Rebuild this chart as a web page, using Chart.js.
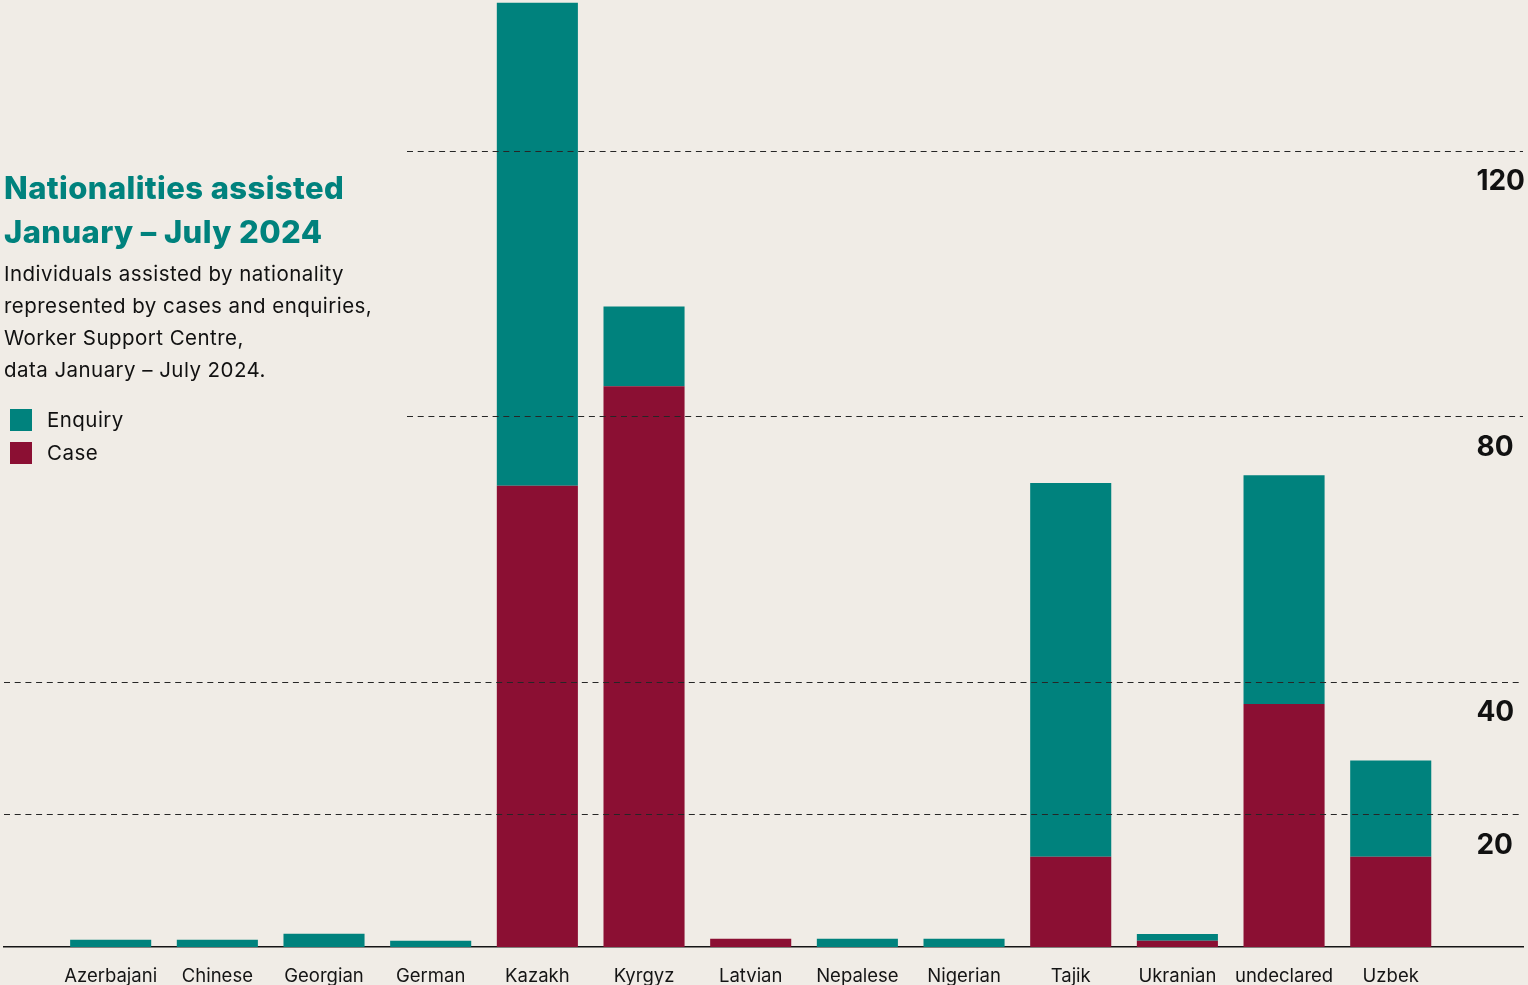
<!DOCTYPE html>
<html>
<head>
<meta charset="utf-8">
<title>Nationalities assisted</title>
<script src="https://cdn.jsdelivr.net/npm/chart.js@4"></script>
<style>
  html, body {
    margin: 0;
    padding: 0;
    background: #f0ece6;
    font-family: Inter, "Noto Sans", sans-serif;
  }
  .page {
    position: relative;
    width: 1528px;
    height: 985px;
    overflow: hidden;
  }
  .chart-box {
    position: absolute;
    left: 0;
    top: 0;
    width: 1528px;
    height: 985px;
  }
  .intro {
    position: absolute;
    left: 4px;
    top: 166px;
    width: 400px;
    color: #111;
  }
  .intro h1 {
    margin: 0;
    color: #00827d;
    font-size: 31px;
    font-weight: 800;
    line-height: 44px;
    letter-spacing: 0.4px;
  }
  .intro p {
    margin: 4px 0 0 0;
    font-size: 20.5px;
    line-height: 32px;
    letter-spacing: 0.45px;
  }
  .legend {
    list-style: none;
    margin: 17px 0 0 6px;
    padding: 0;
  }
  .legend li {
    display: flex;
    align-items: center;
    height: 33px;
    font-size: 20.5px;
    letter-spacing: 0.45px;
  }
  .legend .swatch {
    width: 22px;
    height: 22px;
    margin-right: 15px;
  }
</style>
</head>
<body>
<div class="page">
  <div class="chart-box"><canvas id="nationalityChart"></canvas></div>
  <div class="intro">
    <h1>Nationalities assisted<br>January – July 2024</h1>
    <p>Individuals assisted by nationality<br>represented by cases and enquiries,<br>Worker Support Centre,<br>data January – July 2024.</p>
    <ul class="legend" id="legend"></ul>
  </div>
</div>
<script>
// individuals assisted per nationality, Jan - Jul 2024
const nationalities = ["Azerbajani", "Chinese", "Georgian", "German", "Kazakh", "Kyrgyz",
  "Latvian", "Nepalese", "Nigerian", "Tajik", "Ukranian", "undeclared", "Uzbek"];
const caseCounts = [0, 0, 0, 0, 69.5, 84.5, 1.25, 0, 0, 13.6, 0.95, 36.6, 13.6];
const enquiryCounts = [1.1, 1.1, 2, 0.95, 72.8, 12, 0, 1.25, 1.25, 56.3, 1, 34.5, 14.5];
const yTickValues = [20, 40, 80, 120];

const TEAL = "#00827d";
const WINE = "#8b0f33";

// the upper grid lines stop short of the title block on the left
const titleClearX = 407;

const dashedGrid = {
  id: "dashedGrid",
  afterDatasetsDraw(chart) {
    let { ctx, chartArea, scales } = chart;
    let y = scales.y;
    ctx.save();
    ctx.setLineDash([6, 4.7]);
    ctx.strokeStyle = "#262626";
    ctx.lineWidth = 1;
    y.ticks.forEach((tick) => {
      let py = Math.round(y.getPixelForValue(tick.value)) + 0.5;
      let startX = tick.value >= 80 ? titleClearX : chartArea.left;
      ctx.beginPath();
      ctx.moveTo(startX, py);
      ctx.lineTo(chartArea.right, py);
      ctx.stroke();
    });
    ctx.restore();
  },
};

// labels must not push the plot area inwards
function noLabelPadding(scale) {
  scale.paddingTop = 0;
  scale.paddingBottom = 0;
  scale.paddingLeft = 0;
  scale.paddingRight = 0;
}

function toPoints(values) {
  return values.map((v, i) => ({ x: i, y: v }));
}

const datasets = [
  { label: "Case", data: toPoints(caseCounts), backgroundColor: WINE },
  { label: "Enquiry", data: toPoints(enquiryCounts), backgroundColor: TEAL },
];

const ctx = document.getElementById("nationalityChart");
const chart = new Chart(ctx, {
  type: "bar",
  data: { datasets: datasets },
  plugins: [dashedGrid],
  options: {
    responsive: true,
    maintainAspectRatio: false,
    animation: false,
    layout: { padding: { left: 4, right: 5, top: 0, bottom: 0 } },
    datasets: {
      bar: { categoryPercentage: 1, barPercentage: 0.76, borderWidth: 0 },
    },
    plugins: {
      legend: { display: false },
      tooltip: { enabled: false },
    },
    scales: {
      x: {
        type: "linear",
        stacked: true,
        min: -1,
        max: 13.24,
        offset: false,
        grid: { display: false, drawTicks: false },
        border: { display: true, color: "#151515", width: 1.5 },
        afterFit: (scale) => {
          noLabelPadding(scale);
          scale.height = 38;
        },
        ticks: {
          stepSize: 1,
          autoSkip: false,
          maxRotation: 0,
          includeBounds: false,
          padding: 18,
          color: "#151515",
          font: { family: "Inter", size: 18.5 },
          callback: (value) => nationalities[value] ?? "",
        },
      },
      y: {
        position: "right",
        stacked: true,
        min: 0,
        max: 142.7,
        grid: { display: false, drawTicks: false },
        border: { display: false },
        afterBuildTicks: (scale) => {
          scale.ticks = yTickValues.map((v) => ({ value: v }));
        },
        afterFit: (scale) => {
          noLabelPadding(scale);
          scale.width = 0;
        },
        ticks: {
          mirror: true,
          crossAlign: "far",
          padding: 2,
          labelOffset: 31,
          color: "#111",
          font: { family: "Inter", size: 28, weight: "bold" },
        },
      },
    },
  },
});

// legend entries in the order shown: enquiry above case
let legendList = document.getElementById("legend");
[...datasets].reverse().forEach((ds) => {
  let item = document.createElement("li");
  let swatch = document.createElement("span");
  swatch.classList.add("swatch");
  swatch.style.background = ds.backgroundColor;
  let name = document.createElement("span");
  name.textContent = ds.label;
  item.append(swatch, name);
  legendList.append(item);
});
</script>
</body>
</html>
